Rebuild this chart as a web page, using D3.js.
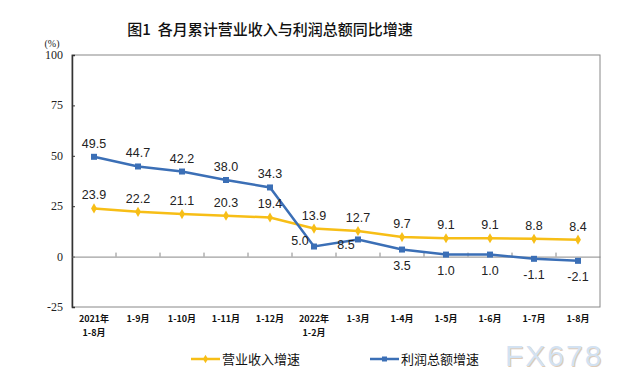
<!DOCTYPE html>
<html>
<head>
<meta charset="utf-8">
<script src="https://cdn.jsdelivr.net/npm/d3@7"></script>
<style>
  body { margin: 0; background: #fff; }
</style>
</head>
<body>
<div class="chart"></div>
<script>
var categories = ['2021年\n1-8月', '1-9月', '1-10月', '1-11月', '1-12月', '2022年\n1-2月',
  '1-3月', '1-4月', '1-5月', '1-6月', '1-7月', '1-8月'];
var incomeGrowth = [23.9, 22.2, 21.1, 20.3, 19.4, 13.9, 12.7, 9.7, 9.1, 9.1, 8.8, 8.4];
var profitGrowth = [49.5, 44.7, 42.2, 38.0, 34.3, 5.0, 8.5, 3.5, 1.0, 1.0, -1.1, -2.1];
var yTicks = [-25, 0, 25, 50, 75, 100];

var width = 632, height = 389;
var plot = { left: 72, right: 600, top: 55, bottom: 307 };
var yellow = '#F7BE16', blue = '#3B6FB6';

var svg = d3.select('.chart').append('svg')
  .attr('width', width)
  .attr('height', height);

var xScale = d3.scaleBand()
  .domain(categories)
  .range([plot.left, plot.right]);

var yScale = d3.scaleLinear()
  .domain([-25, 100])
  .range([plot.bottom, plot.top]);

var cx = d => xScale(d) + xScale.bandwidth() / 2;

// title
svg.append('text')
  .attr('x', 270).attr('y', 35)
  .attr('text-anchor', 'middle')
  .style('white-space', 'pre')
  .style('font-family', 'Noto Sans CJK SC')
  .style('font-size', '15px')
  .style('font-weight', 500)
  .style('fill', '#111')
  .text('图1  各月累计营业收入与利润总额同比增速');

// frame
svg.append('rect')
  .attr('x', plot.left).attr('y', plot.top)
  .attr('width', plot.right - plot.left)
  .attr('height', plot.bottom - plot.top)
  .style('fill', 'none')
  .style('stroke', '#888')
  .style('stroke-width', 1);

// y axis
var yAxis = svg.append('g')
  .attr('transform', `translate(${plot.left},0)`)
  .call(d3.axisRight(yScale).tickValues(yTicks).tickSize(3).tickFormat(''));
yAxis.select('.domain').style('stroke', '#333').style('stroke-width', 1.5);
yAxis.selectAll('.tick line').style('stroke', '#333');

svg.selectAll('.ylabel')
  .data(yTicks)
  .enter().append('text')
  .attr('class', 'ylabel')
  .attr('x', 63)
  .attr('y', d => yScale(d) + 4)
  .attr('text-anchor', 'end')
  .style('font-family', 'Liberation Serif')
  .style('font-size', '12px')
  .style('fill', '#222')
  .text(d => d);

svg.append('text')
  .attr('x', 52).attr('y', 47)
  .attr('text-anchor', 'middle')
  .style('font-family', 'Liberation Serif')
  .style('font-size', '10px')
  .style('fill', '#222')
  .text('(%)');

// zero line with category ticks pointing up
var xAxis = svg.append('g')
  .attr('transform', `translate(0,${yScale(0)})`)
  .call(d3.axisTop(xScale).tickSize(0).tickFormat(''));
xAxis.select('.domain').style('stroke', '#888');
svg.selectAll('.xtick')
  .data(d3.range(1, categories.length))
  .enter().append('line')
  .attr('class', 'xtick')
  .attr('x1', i => xScale(categories[i]))
  .attr('x2', i => xScale(categories[i]))
  .attr('y1', yScale(0))
  .attr('y2', yScale(0) - 4)
  .style('stroke', '#888');

// x labels
var xl = svg.selectAll('.xlabel')
  .data(categories)
  .enter().append('text')
  .attr('class', 'xlabel')
  .attr('text-anchor', 'middle')
  .style('font-family', 'Noto Sans CJK SC')
  .style('font-size', '9px')
  .style('font-weight', 'bold')
  .style('fill', '#111');
xl.each(function(d) {
  var lines = d.split('\n');
  var t = d3.select(this);
  lines.forEach((s, k) => {
    t.append('tspan')
      .attr('x', cx(d))
      .attr('y', 322 + k * 14)
      .text(s);
  });
});

// lines
var line = d3.line()
  .x((d, i) => cx(categories[i]))
  .y(d => yScale(d));

svg.append('path')
  .attr('d', line(incomeGrowth))
  .style('stroke', yellow)
  .style('stroke-width', 2.5)
  .style('fill', 'none');

svg.append('path')
  .attr('d', line(profitGrowth))
  .style('stroke', blue)
  .style('stroke-width', 2.5)
  .style('fill', 'none');

// markers
svg.selectAll('.dia')
  .data(incomeGrowth)
  .enter().append('path')
  .attr('class', 'dia')
  .attr('d', d3.symbol(d3.symbolDiamond, 30))
  .attr('transform', (d, i) => `translate(${cx(categories[i])},${yScale(d)})`)
  .style('fill', yellow);

svg.selectAll('.sq')
  .data(profitGrowth)
  .enter().append('rect')
  .attr('class', 'sq')
  .attr('x', (d, i) => cx(categories[i]) - 3)
  .attr('y', d => yScale(d) - 3)
  .attr('width', 6).attr('height', 6)
  .style('fill', blue);

// data labels
function drawLabels(data, cls, dx, dy) {
  svg.selectAll('.' + cls)
    .data(data)
    .enter().append('text')
    .attr('class', cls)
    .attr('x', (d, i) => cx(categories[i]) + dx(i))
    .attr('y', (d, i) => yScale(d) + dy(i))
    .attr('text-anchor', 'middle')
    .style('font-family', 'Liberation Sans')
    .style('font-size', '12.5px')
    .style('fill', '#222')
    .text(d => d.toFixed(1));
}

drawLabels(incomeGrowth, 'ilabel', i => 0, i => -9);
drawLabels(profitGrowth, 'plabel',
  i => (i == 5 ? -14 : i == 6 ? -12 : 0),
  i => (i < 5 ? -9 : i == 5 ? -2 : i == 6 ? 10 : 20));

// legend
function drawLegend(x, color, text, square) {
  var y = 359;
  svg.append('line')
    .attr('x1', x).attr('x2', x + 29)
    .attr('y1', y).attr('y2', y)
    .style('stroke', color)
    .style('stroke-width', 2.5);
  if (square) {
    svg.append('rect')
      .attr('x', x + 12).attr('y', y - 2.5)
      .attr('width', 5).attr('height', 5)
      .style('fill', color);
  } else {
    svg.append('path')
      .attr('d', d3.symbol(d3.symbolDiamond, 22))
      .attr('transform', `translate(${x + 14.5},${y})`)
      .style('fill', color);
  }
  svg.append('text')
    .attr('x', x + 31).attr('y', y + 5)
    .style('font-family', 'Noto Sans CJK SC')
    .style('font-size', '13px')
    .style('fill', '#111')
    .text(text);
}
drawLegend(191, yellow, '营业收入增速', false);
drawLegend(370, blue, '利润总额增速', true);

// watermark
svg.append('text')
  .attr('x', 506).attr('y', 367)
  .style('font-family', 'Liberation Sans')
  .style('font-size', '30px')
  .style('letter-spacing', '2px')
  .style('fill', '#c9a98a')
  .style('opacity', 0.6)
  .text('FX678');
svg.append('text')
  .attr('x', 505).attr('y', 366)
  .style('font-family', 'Liberation Sans')
  .style('font-size', '30px')
  .style('letter-spacing', '2px')
  .style('fill', '#d3e2f2')
  .text('FX678');
</script>
</body>
</html>
